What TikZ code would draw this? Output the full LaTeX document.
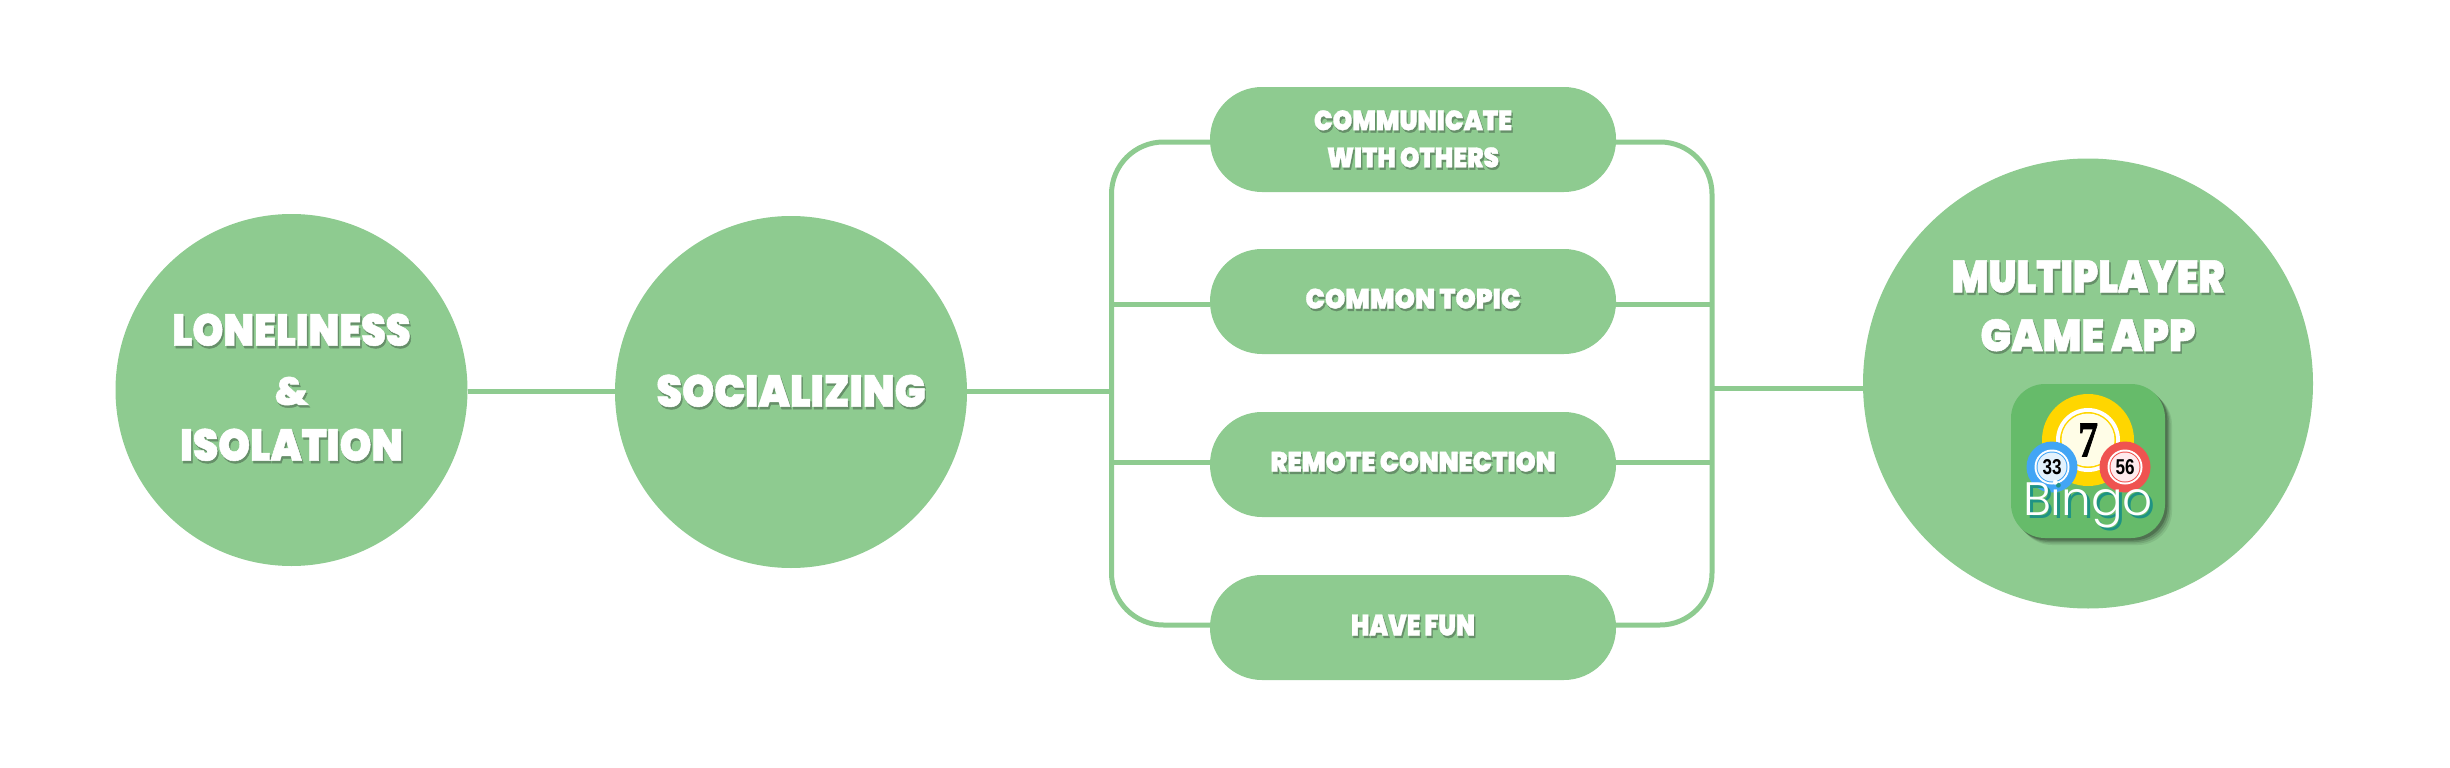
\documentclass[tikz,border=0pt]{standalone}
\usepackage{fontspec}
\setmainfont{Poppins}
\newfontfamily\heavy[FakeBold=1.2]{Poppins Black}
\newfontfamily\thinf{Poppins Light}
\newfontfamily\seven[FakeBold=1.5]{Liberation Serif}
\newfontfamily\balls{Liberation Sans}
\definecolor{leaf}{HTML}{8ECB90}
\definecolor{txtsh}{HTML}{668F69}
\definecolor{appgreen}{HTML}{66BB6A}
\definecolor{appyellow}{HTML}{FFD600}
\definecolor{appcream}{HTML}{FFFDE7}
\definecolor{appblue}{HTML}{42A5F5}
\definecolor{appred}{HTML}{EF5350}
\definecolor{paleblue}{HTML}{E3F2FD}
\definecolor{palered}{HTML}{FFEBEE}
\definecolor{tealsh}{HTML}{1F9384}
% width, height, text: fitted heavy caps with a soft drop shadow
\newcommand{\capsfit}[3]{\leavevmode
  \rlap{\kern1.4pt\raisebox{-2.4pt}{\color{txtsh}\resizebox{#1pt}{#2pt}{\heavy #3}}}%
  \resizebox{#1pt}{#2pt}{\heavy #3}}
\tikzset{
  bigdisc/.style={circle,fill=leaf,inner sep=0pt,text=white},
  pill/.style={rectangle,rounded corners=52pt,fill=leaf,minimum width=406pt,minimum height=105pt,inner sep=0pt,text=white},
  caption/.style={inner sep=0pt,text=white,align=center},
  wire/.style={draw=leaf,line width=5pt},
  ballnum/.style={inner sep=0pt,text=black},
}
\begin{document}
\begin{tikzpicture}[x=1pt,y=-1pt]
\useasboundingbox (0,0) rectangle (2450,768);
\coordinate (busL) at (1111.5,391);
\coordinate (busR) at (1712,388);
\node[bigdisc,minimum size=352pt] (c1) at (291.5,390) {};
\node[bigdisc,minimum size=352pt] (c2) at (791,392) {\raisebox{2pt}{\capsfit{269}{32}{SOCIALIZING}}};
\node[bigdisc,minimum size=450pt] (c3) at (2088,383.5) {};
\node[pill] (p1) at (1413,139.5) {};
\node[pill] (p2) at (1413,301.5) {\raisebox{6pt}{\capsfit{215}{20}{COMMON TOPIC}}};
\node[pill] (p3) at (1413,464.5) {\raisebox{6pt}{\capsfit{285}{20}{REMOTE CONNECTION}}};
\node[pill] (p4) at (1413,627.5) {\raisebox{5pt}{\capsfit{124}{21}{HAVE FUN}}};
\draw[wire] ([yshift=-1pt]c1.east) -- ([yshift=1pt]c2.west);
\draw[wire] ([yshift=1pt]c2.east) -- (busL);
\draw[wire] (busR) -- (busR -| c3.west);
\draw[wire,rounded corners=52pt] ([yshift=-2.5pt]p1.west) -- ([yshift=-2.5pt]p1.west -| busL) -- ([yshift=2.5pt]p4.west -| busL) -- ([yshift=2.5pt]p4.west);
\draw[wire,rounded corners=52pt] ([yshift=-2.5pt]p1.east) -- ([yshift=-2.5pt]p1.east -| busR) -- ([yshift=2.5pt]p4.east -| busR) -- ([yshift=2.5pt]p4.east);
\draw[wire] ([yshift=-2.5pt]p2.west) -- ([yshift=-2.5pt]p2.west -| busL);
\draw[wire] ([yshift=2.5pt]p3.west) -- ([yshift=2.5pt]p3.west -| busL);
\draw[wire] ([yshift=-2.5pt]p2.east) -- ([yshift=-2.5pt]p2.east -| busR);
\draw[wire] ([yshift=2.5pt]p3.east) -- ([yshift=2.5pt]p3.east -| busR);
% multi-line captions
\node[caption] (t1) at (291.5,388.5) {\capsfit{238}{32}{LONELINESS}\\[27.5pt]\capsfit{34}{28}{\&}\\[20pt]\capsfit{223}{32}{ISOLATION}};
\node[caption] (t3) at (2088,307) {\capsfit{273}{32}{MULTIPLAYER}\\[23pt]\capsfit{215}{32}{GAME APP}};
\node[caption] (t4) at (1413,140) {\capsfit{198}{20}{COMMUNICATE}\\[13.5pt]\capsfit{172}{20}{WITH OTHERS}};
% app icon
\foreach \o/\a in {7/0.08,5.5/0.10,4/0.14,2.5/0.2}
  \fill[black,opacity=\a,rounded corners=34pt] (2011+\o,384+\o) rectangle (2165+\o,538+\o);
\node[rectangle,rounded corners=34pt,fill=appgreen,minimum size=154pt,inner sep=0pt] (icon) at (2088,461) {};
\node[circle,fill=appyellow,minimum size=92pt,inner sep=0pt] (ball7) at (2088,440) {};
\node[circle,fill=white,minimum size=64pt,inner sep=0pt] (ring7) at (2088,440) {};
\node[circle,fill=appyellow,minimum size=56pt,inner sep=0pt] (ring7b) at (2088,440) {};
\node[circle,fill=appcream,minimum size=53pt,inner sep=0pt,text=black] (core7) at (2088,440) {\resizebox{20pt}{33pt}{\seven\bfseries 7}};
\foreach \n/\x/\fc/\pc/\t in {b33/2052/appblue/paleblue/33,b56/2125/appred/palered/56}{
  \node[circle,fill=\fc,minimum size=51pt,inner sep=0pt] (\n) at (\x,467) {};
  \node[circle,fill=white,minimum size=35pt,inner sep=0pt] (\n r) at (\x,467) {};
  \node[circle,fill=\fc,minimum size=31pt,inner sep=0pt] (\n s) at (\x,467) {};
  \node[circle,fill=\pc,minimum size=29pt,inner sep=0pt] (\n c) at (\x,467) {};
  \node[ballnum] (\n t) at (\x,467) {\resizebox{19pt}{15pt}{\balls\bfseries \t}};
}
\node[inner sep=0pt,anchor=base,text=white] (bingo) at (2088,515) {\rlap{\kern3pt\raisebox{-3.5pt}{\color{tealsh}\resizebox{130pt}{!}{\thinf Bingo}}}\resizebox{130pt}{!}{\thinf Bingo}};
\end{tikzpicture}
\end{document}
